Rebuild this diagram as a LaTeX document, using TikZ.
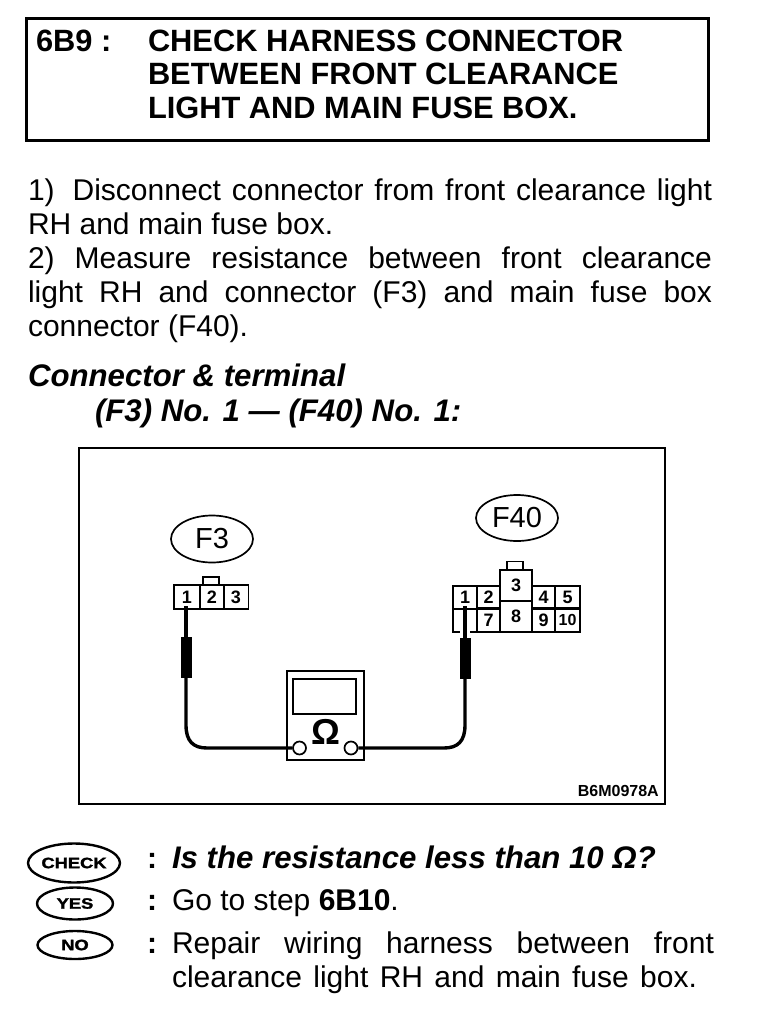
\documentclass[tikz,border=0pt]{standalone}
\usepackage{fontspec}
\usepackage{graphicx}
\setmainfont{Liberation Sans}
\newfontfamily\heavy[FakeBold=1.6]{Liberation Sans Bold}
\usetikzlibrary{shapes.geometric,calc}
\newcommand{\bodyfs}{\fontsize{30}{34}\selectfont}
\newcommand{\titlefs}{\fontsize{30.8}{33}\selectfont\bfseries}
\newcommand{\wideb}[1]{\scalebox{1.22}[1]{\fontsize{15}{16}\selectfont\heavy #1}}
\newcommand{\jline}[2]{\makebox[#1pt][s]{#2}}
\tikzset{
  txt/.style={anchor=base west,inner sep=0pt,outer sep=0pt,font=\bodyfs},
  ttl/.style={anchor=base west,inner sep=0pt,outer sep=0pt,font=\titlefs},
  bi/.style={anchor=base west,inner sep=0pt,outer sep=0pt,font=\fontsize{31.2}{33}\selectfont\bfseries\itshape},
  oval/.style={ellipse,draw,line width=1.7pt,inner sep=0pt,font=\fontsize{29}{30}\selectfont},
  badge/.style={ellipse,draw,line width=2.4pt,inner sep=0pt},
  cell/.style={draw,line width=1.9pt,inner sep=0pt,font=\fontsize{18}{18}\selectfont\bfseries},
  lnk/.style={line width=3.4pt,line cap=butt},
  probe/.style={draw,fill=black,inner sep=0pt,minimum width=10pt,minimum height=40pt},
  term/.style={circle,draw,line width=1.7pt,fill=white,minimum size=13pt,inner sep=0pt}
}
\begin{document}
\begin{tikzpicture}[x=1pt,y=-1pt]
\useasboundingbox (0,0) rectangle (768,1014);
% title
\node[draw,line width=2.8pt,minimum width=682pt,minimum height=122pt,inner sep=0pt] (titlebox) at (367.5,79.5) {};
\node[ttl] (t0) at (36,52) {6B9 :};
\node[ttl] (t1) at (148,52) {CHECK HARNESS CONNECTOR};
\node[ttl] (t2) at (148,85) {BETWEEN FRONT CLEARANCE};
\node[ttl] (t3) at (148,118) {LIGHT AND MAIN FUSE BOX.};
% body
\node[txt] (b1) at (28,200) {\jline{684}{1)\hspace{18pt}Disconnect connector from front clearance light}};
\node[txt] (b2) at (28,234) {RH and main fuse box.};
\node[txt] (b3) at (28,268) {\jline{684}{2) Measure resistance between front clearance}};
\node[txt] (b4) at (28,302) {\jline{684}{light RH and connector (F3) and main fuse box}};
\node[txt] (b5) at (28,336) {connector (F40).};
\node[bi] (c1) at (28,386) {Connector \& terminal};
\node[bi] (c2) at (95,421) {(F3) No. 1 — (F40) No. 1:};
% figure frame
\node[draw,line width=2pt,minimum width=586pt,minimum height=356pt,inner sep=0pt] (frame) at (372,626) {};
\node[anchor=base east,inner sep=0pt,font=\fontsize{16}{16}\selectfont\bfseries] (code) at (659,796) {B6M0978A};
% F3
\node[oval,minimum width=82pt,minimum height=47pt] (f3) at (212,539) {F3};
\node[draw,line width=1.7pt,minimum width=16pt,minimum height=8pt,inner sep=0pt] (f3tab) at (211,581) {};
\node[cell,minimum width=26pt,minimum height=24pt] (a1) at (187,597) {1};
\node[cell,minimum width=24pt,minimum height=24pt] (a2) at (212,597) {2};
\node[cell,minimum width=25pt,minimum height=24pt] (a3) at (236,597) {3};
% F40
\node[draw,line width=1.7pt,minimum width=16pt,minimum height=9pt,inner sep=0pt] (ftab) at (515,566) {};
\node[cell,minimum width=24pt,minimum height=23pt] (d1) at (465,597.5) {1};
\node[cell,minimum width=23pt,minimum height=23pt] (d2) at (488.5,597.5) {2};
\node[cell,minimum width=23pt,minimum height=23pt] (d4) at (543.5,597.5) {4};
\node[cell,minimum width=25pt,minimum height=23pt] (d5) at (567.5,597.5) {5};
\node[cell,minimum width=23pt,minimum height=24pt] (d7) at (488.5,620) {7};
\node[cell,minimum width=23pt,minimum height=24pt] (d9) at (543.5,620) {9};
\node[cell,minimum width=25pt,minimum height=24pt,font=\fontsize{16}{16}\selectfont\bfseries] (d10) at (567.5,620) {10};
\node[cell,minimum width=32pt,minimum height=31pt,fill=white] (d3) at (516,585.5) {3};
\node[cell,minimum width=32pt,minimum height=31pt,fill=white] (d8) at (516,616.5) {8};
\node[oval,minimum width=82pt,minimum height=46pt] (f40) at (517,518) {F40};
\coordinate (bl) at (453,609);
\draw[line width=1.9pt] (460,609) -- (bl) -- (453,632) -- (460,632);
\draw[line width=1.9pt] (470,632) -- (477,632);
% meter
\node[draw,line width=1.8pt,minimum width=77pt,minimum height=89pt,inner sep=0pt] (meter) at (325.5,715.5) {};
\node[draw,line width=2pt,minimum width=63pt,minimum height=35pt,inner sep=0pt] (display) at (324.5,696.5) {};
\node[inner sep=0pt,font=\fontsize{36}{36}\selectfont\bfseries] (ohm) at (325.5,732) {Ω};
\node[term] (tl) at (299.5,748) {};
\node[term] (tr) at (351,748) {};
% probes and leads
\node[probe] (pl) at (186,657) {};
\node[probe] (pr) at (465,658) {};
\draw[lnk] (186,606) -- (pl.north);
\draw[lnk] (465,606) -- (pr.north);
\draw[lnk] (pl.south) -- (186,725) .. controls (186,741) and (193,748) .. (207,748) -- (tl.west);
\draw[lnk] (pr.south) -- (465,725) .. controls (465,741) and (458,748) .. (444,748) -- (tr.east);
% answers
\node[badge,minimum width=92pt,minimum height=39pt,label={center:\wideb{CHECK}}] (chk) at (74,863) {};
\node[badge,minimum width=76pt,minimum height=32pt,label={center:\wideb{YES}}] (yes) at (75,903.5) {};
\node[badge,minimum width=75pt,minimum height=28pt,label={center:\wideb{NO}}] (no) at (75,945) {};
\node[txt] (s1) at (147,868) {\textbf{:}};
\node[txt] (s2) at (147,910) {\textbf{:}};
\node[txt] (s3) at (147,953) {\textbf{:}};
\node[bi] (a) at (172,868) {Is the resistance less than 10 Ω?};
\node[txt] (g) at (172,910) {Go to step \textbf{6B10}.};
\node[txt] (r1) at (172,953) {\jline{542}{Repair wiring harness between front}};
\node[txt] (r2) at (172,987) {\jline{525}{clearance light RH and main fuse box.}};
\end{tikzpicture}
\end{document}
